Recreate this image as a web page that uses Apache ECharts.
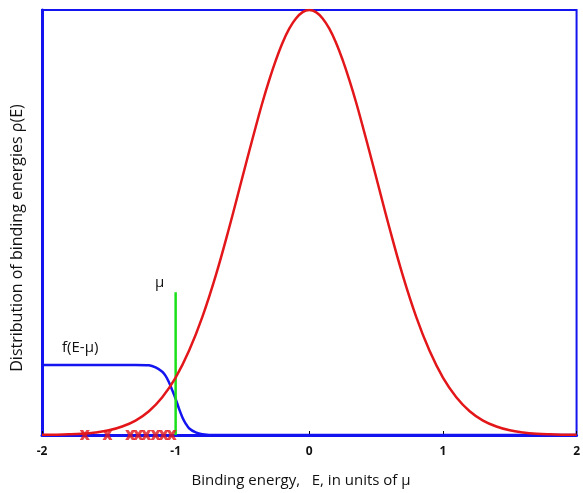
<!DOCTYPE html>
<html>
<head>
<meta charset="utf-8">
<script src="https://cdn.jsdelivr.net/npm/echarts@6/dist/echarts.min.js"></script>
<style>
  html, body { margin: 0; padding: 0; background: #fff; }
  #chart { width: 583px; height: 493px; }
</style>
</head>
<body>
<div id="chart"></div>
<script>
// binding energies (units of mu) and the density
var energyGrid = [-2.0, -1.9, -1.8, -1.7, -1.6, -1.5, -1.4, -1.3, -1.2, -1.1, -1.0,
    -0.9, -0.8, -0.7, -0.6, -0.5, -0.45, -0.4, -0.35, -0.3, -0.25, -0.2, -0.15, -0.1, -0.05, 0.0,
    0.05, 0.1, 0.15, 0.2, 0.25, 0.3, 0.35, 0.4, 0.45, 0.5, 0.6, 0.7, 0.8, 0.9, 1.0,
    1.1, 1.2, 1.3, 1.4, 1.5, 1.6, 1.7, 1.8, 1.9, 2.0];
var rhoValues = [0.0003, 0.0007, 0.0015, 0.003, 0.006, 0.011, 0.020, 0.034, 0.056, 0.089, 0.135,
    0.198, 0.278, 0.375, 0.487, 0.607, 0.667, 0.726, 0.783, 0.835, 0.882, 0.923, 0.956, 0.980, 0.995, 1.0,
    0.995, 0.980, 0.956, 0.923, 0.882, 0.835, 0.783, 0.726, 0.667, 0.607, 0.487, 0.375, 0.278, 0.198, 0.135,
    0.089, 0.056, 0.034, 0.020, 0.011, 0.006, 0.003, 0.0015, 0.0007, 0.0003];

// occupation f(E - mu), blue curve
var fermiE = [-2.0, -1.3, -1.2, -1.15, -1.1, -1.075, -1.05, -1.025, -1.0, -0.975,
    -0.95, -0.925, -0.9, -0.85, -0.8, -0.7, 2.0];
var fermiValues = [0.165, 0.165, 0.164, 0.159, 0.149, 0.139, 0.124, 0.105, 0.085, 0.062,
    0.042, 0.027, 0.016, 0.006, 0.002, 0.0, 0.0];

// filled levels (red crosses) and the chemical potential
var levelE = [-1.68, -1.51, -1.34, -1.28, -1.22, -1.15, -1.09, -1.03];
var muE = -1.0;
var muHeight = 0.336;

var xTicks = [-2, -1, 0, 1, 2];

var blue = '#1414f0';
var red = '#e3161a';
var green = '#19e019';
var font = '"Open Sans", "Liberation Sans", sans-serif';

function pairs(xs, ys) {
    var out = [];
    for (var i = 0; i < xs.length; i++) out.push([xs[i], ys[i]]);
    return out;
}

var chart = echarts.init(document.getElementById('chart'));
var option = {
    animation: false,
    backgroundColor: '#fff',
    grid: {
        left: 42, right: 2, top: 10, bottom: 58,
        show: true, borderColor: blue, borderWidth: 2, containLabel: false
    },
    xAxis: {
        type: 'value', min: -2, max: 2, interval: 1,
        axisLine: { show: true, onZero: false, lineStyle: { color: blue, width: 3 } },
        axisTick: { show: true, inside: true, length: 4, lineStyle: { color: '#000', width: 1 } },
        splitLine: { show: false },
        axisLabel: {
            color: '#111', fontSize: 12, fontWeight: 'bold', fontFamily: font, margin: 11,
            formatter: function (v) { return xTicks.indexOf(v) >= 0 ? String(v) : ''; }
        }
    },
    yAxis: {
        type: 'value', min: 0, max: 1,
        axisLine: { show: true, onZero: false, lineStyle: { color: blue, width: 3 } },
        axisTick: { show: false },
        axisLabel: { show: false },
        splitLine: { show: false }
    },
    series: [
        {
            name: 'fermi', type: 'line', data: pairs(fermiE, fermiValues),
            smooth: 0.3, showSymbol: false, z: 2,
            lineStyle: { color: blue, width: 2.5 }
        },
        {
            name: 'mu', type: 'line', data: [[muE, 0], [muE, muHeight]],
            showSymbol: false, z: 3,
            lineStyle: { color: green, width: 2.5 }
        },
        {
            name: 'rho', type: 'line', data: pairs(energyGrid, rhoValues),
            smooth: 0.4, showSymbol: false, z: 4,
            lineStyle: { color: red, width: 2.5 }
        },
        {
            name: 'levels', type: 'scatter', z: 5,
            data: levelE.map(function (e) { return [e, 0]; }),
            symbol: 'path://M0,0L3.4,0L5,2.6L6.6,0L10,0L7,5L10,10L6.6,10L5,7.4L3.4,10L0,10L3,5Z',
            symbolSize: [10, 10],
            itemStyle: { color: red }
        }
    ],
    graphic: [
        {
            type: 'text', left: 62, top: 340,
            style: { text: 'f(E-μ)', fill: '#111', font: '15px ' + font }
        },
        {
            type: 'text', left: 155, top: 275,
            style: { text: 'μ', fill: '#111', font: '15px ' + font }
        },
        {
            type: 'text', x: 301, y: 481,
            style: {
                text: 'Binding energy,   E, in units of μ', fill: '#111',
                font: '15px ' + font, align: 'center', verticalAlign: 'middle'
            }
        },
        {
            type: 'text', x: 17, y: 238, rotation: Math.PI / 2,
            style: {
                text: 'Distribution of binding energies ρ(E)', fill: '#111',
                font: '16px ' + font, align: 'center', verticalAlign: 'middle'
            }
        }
    ]
};
chart.setOption(option);
</script>
</body>
</html>
